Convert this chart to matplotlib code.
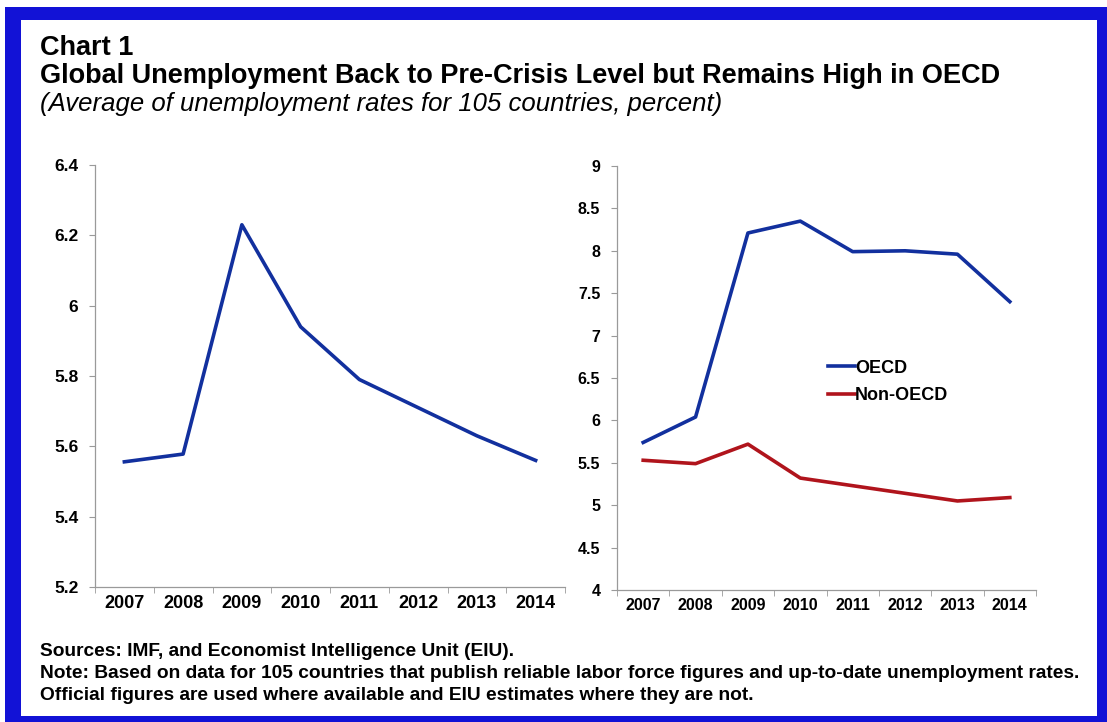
from __future__ import annotations

import matplotlib

matplotlib.use("Agg")
import matplotlib.pyplot as plt
import numpy as np
from matplotlib.patches import Rectangle


YEARS = ["2007", "2008", "2009", "2010", "2011", "2012", "2013", "2014"]
GLOBAL_RATE = [5.556, 5.578, 6.23, 5.94, 5.79, 5.71, 5.63, 5.56]
OECD_RATE = [5.74, 6.04, 8.21, 8.35, 7.99, 8.00, 7.96, 7.40]
NON_OECD_RATE = [5.53, 5.49, 5.72, 5.32, 5.23, 5.14, 5.05, 5.09]

LEFT_TICKS = [5.2, 5.4, 5.6, 5.8, 6.0, 6.2, 6.4]
LEFT_TICK_LABELS = ["5.2", "5.4", "5.6", "5.8", "6", "6.2", "6.4"]
RIGHT_TICKS = [4, 4.5, 5, 5.5, 6, 6.5, 7, 7.5, 8, 8.5, 9]
RIGHT_TICK_LABELS = ["4", "4.5", "5", "5.5", "6", "6.5", "7", "7.5", "8", "8.5", "9"]

TITLE = "Chart 1"
SUBTITLE = "Global Unemployment Back to Pre-Crisis Level but Remains High in OECD"
NOTE_ITALIC = "(Average of unemployment rates for 105 countries, percent)"
FOOTER = [
    "Sources: IMF, and Economist Intelligence Unit (EIU).",
    "Note: Based on data for 105 countries that publish reliable labor force figures and up-to-date unemployment rates.",
    "Official figures are used where available and EIU estimates where they are not.",
]

BLUE = "#12309e"
RED = "#b0141c"
FRAME_BLUE = "#1212d6"
SPINE_GRAY = "#9a9a9a"
W, H = 1107, 722


def style_axis(ax, ticks, tick_labels, ylim, xsize, ysize):
    x = np.arange(len(YEARS))
    ax.set_facecolor("none")
    ax.set_xlim(-0.5, len(YEARS) - 0.5)
    ax.set_ylim(*ylim)
    ax.set_xticks(x)
    ax.set_xticklabels(YEARS, fontsize=xsize, fontweight="bold")
    ax.set_xticks(np.arange(len(YEARS) + 1) - 0.5, minor=True)
    ax.tick_params(axis="x", which="major", length=0, pad=6)
    ax.tick_params(axis="x", which="minor", length=4, color=SPINE_GRAY, direction="out")
    ax.set_yticks(ticks)
    ax.set_yticklabels(tick_labels, fontsize=ysize, fontweight="bold")
    ax.tick_params(axis="y", length=4, color=SPINE_GRAY, pad=8)
    for side in ("top", "right"):
        ax.spines[side].set_visible(False)
    for side in ("left", "bottom"):
        ax.spines[side].set_color(SPINE_GRAY)
        ax.spines[side].set_linewidth(0.9)


def px(x, y):
    # pixel position (from top-left) to figure fraction
    return x / W, 1 - y / H


def main() -> None:
    plt.rcParams["font.family"] = ["Liberation Sans", "DejaVu Sans"]
    fig = plt.figure(figsize=(W / 100, H / 100), dpi=100)
    fig.patch.set_facecolor("white")

    # blue picture frame
    fig.patches.append(Rectangle(px(5, 722), (W - 5) / W, 715 / H, transform=fig.transFigure,
                                 facecolor=FRAME_BLUE, edgecolor="none", zorder=-10))
    fig.patches.append(Rectangle(px(21, 716), (1097 - 21) / W, (716 - 20) / H, transform=fig.transFigure,
                                 facecolor="white", edgecolor="none", zorder=-9))

    x = np.arange(len(YEARS))

    left_box = px(95, 587)
    ax1 = fig.add_axes([left_box[0], left_box[1], (565 - 95) / W, (587 - 165) / H])
    ax1.plot(x, GLOBAL_RATE, color=BLUE, linewidth=2.6)
    style_axis(ax1, LEFT_TICKS, LEFT_TICK_LABELS, (5.2, 6.4), 13, 12.5)

    right_box = px(617, 590)
    ax2 = fig.add_axes([right_box[0], right_box[1], (1036 - 617) / W, (590 - 166) / H])
    ax2.plot(x, OECD_RATE, color=BLUE, linewidth=2.6, label="OECD")
    ax2.plot(x, NON_OECD_RATE, color=RED, linewidth=2.6, label="Non-OECD")
    style_axis(ax2, RIGHT_TICKS, RIGHT_TICK_LABELS, (4, 9), 11.5, 11.5)
    ax2.legend(loc="center left", bbox_to_anchor=px(819, 382), bbox_transform=fig.transFigure,
               frameon=False, borderpad=0, handlelength=1.5, handletextpad=0.0,
               labelspacing=0.6, prop={"size": 13, "weight": "bold"})

    fig.text(*px(40, 48), TITLE, fontsize=19.5, fontweight="bold", va="center", ha="left")
    fig.text(*px(40, 76), SUBTITLE, fontsize=19.5, fontweight="bold", va="center", ha="left")
    fig.text(*px(40, 104), NOTE_ITALIC, fontsize=18.5, style="italic", va="center", ha="left")

    for y, line in zip([651, 674, 695], FOOTER):
        fig.text(*px(40, y), line, fontsize=13.8, fontweight="bold", va="center", ha="left")

    fig.savefig("out.png", dpi=100, facecolor=fig.get_facecolor())
    plt.close(fig)


if __name__ == "__main__":
    main()
